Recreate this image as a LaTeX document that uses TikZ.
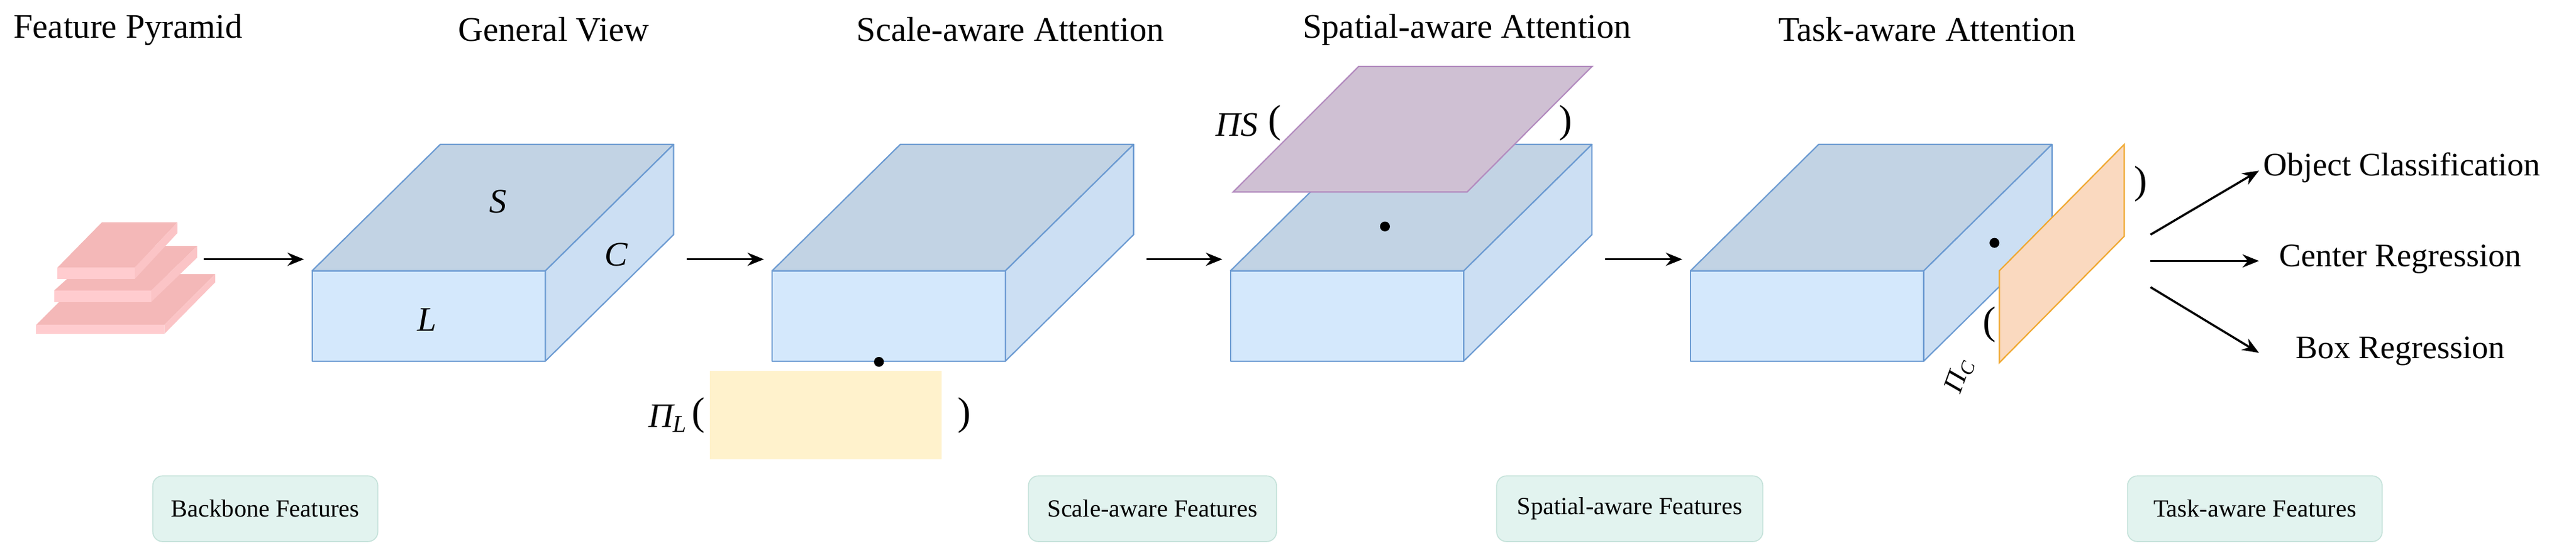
\documentclass[tikz,border=0pt]{standalone}
\usepackage{fontspec}
\setmainfont{Liberation Serif}
\usetikzlibrary{arrows.meta}
\begin{document}
\begin{tikzpicture}[x=1pt,y=-1pt,
 title/.style={font=\fontsize{21}{24}\selectfont},
 outtxt/.style={font=\fontsize{20}{23}\selectfont},
 feat/.style={rounded corners=6pt,fill=featfill,draw=featdraw,line width=0.6pt,minimum height=40pt,font=\fontsize{15}{17}\selectfont},
 arr/.style={-{Stealth[length=10pt,width=8pt]},line width=1.3pt},
 cubeline/.style={draw=cubedraw,line width=0.8pt,line join=round},
 par/.style={font=\fontsize{24}{26}\selectfont},
 sym/.style={font=\fontsize{21}{24}\selectfont\itshape},
 dot/.style={circle,fill=black,inner sep=0pt,minimum size=6pt}]
\definecolor{front}{HTML}{D4E8FC}
\definecolor{topc}{HTML}{C2D3E4}
\definecolor{side}{HTML}{CCDFF3}
\definecolor{cubedraw}{HTML}{6C9BD2}
\definecolor{pinkA}{HTML}{F4B8B8}
\definecolor{pinkB}{HTML}{FFCCCF}
\definecolor{featfill}{HTML}{E2F3EF}
\definecolor{featdraw}{HTML}{C5E2DA}
\definecolor{yel}{HTML}{FFF2CC}
\definecolor{purf}{HTML}{CFC0D3}
\definecolor{purd}{HTML}{B38BBF}
\definecolor{orf}{HTML}{FAD9BF}
\definecolor{ord}{HTML}{F0A830}
\useasboundingbox (0,0) rectangle (1568,340);
\fill[white] (0,0) rectangle (1568,340);
\newcommand\mycube[2]{%
 \filldraw[cubeline,fill=front] (#1,165) rectangle (#1+142,220);
 \filldraw[cubeline,fill=topc] (#1,165) -- (#1+78,88) -- (#1+220,88) -- (#1+142,165) -- cycle;
 \filldraw[cubeline,fill=side] (#1+142,165) -- (#1+220,88) -- (#1+220,143) -- (#1+142,220) -- cycle;
 \coordinate (#2in) at (#1-5,158);
 \coordinate (#2out) at (#1+228,158);}
% titles
\node[title] (t1) at (78,18) {Feature Pyramid};
\node[title] (t2) at (337,18) {General View};
\node[title] (t3) at (615,18) {Scale-aware Attention};
\node[title] (t4) at (893,18) {Spatial-aware Attention};
\node[title] (t5) at (1173,18) {Task-aware Attention};
% pyramid
\fill[pinkA] (22,198) -- (53,167) -- (131,167) -- (100,198) -- cycle;
\fill[pinkB!60!pinkA] (100,198) -- (131,167) -- (131,172) -- (100,203.5) -- cycle;
\fill[pinkB] (22,198) rectangle (100,203.5);
\fill[pinkA] (33,177) -- (63,150) -- (120,150) -- (92,177) -- cycle;
\fill[pinkB!60!pinkA] (92,177) -- (120,150) -- (120,157) -- (92,184) -- cycle;
\fill[pinkB] (33,177) rectangle (92,184);
\fill[pinkA] (35,163) -- (62,135.5) -- (108,135.5) -- (82,163) -- cycle;
\fill[pinkB!60!pinkA] (82,163) -- (108,135.5) -- (108,142) -- (82,170) -- cycle;
\fill[pinkB] (35,163) rectangle (82,170);
\coordinate (pyr) at (124,158);
% cubes
\mycube{190}{a}
\mycube{470}{b}
\mycube{749}{c}
\mycube{1029}{d}
\node[sym] (S) at (303,123) {S};
\node[sym] (C) at (375,155) {C};
\node[sym] (L) at (260,195) {L};
% arrows
\draw[arr] (pyr) -- (ain);
\draw[arr] (aout) -- (bin);
\draw[arr] (bout) -- (cin);
\draw[arr] (cout) -- (din);
% scale attention
\fill[yel] (432,226) rectangle (573,280);
\node[dot] (d2) at (535,220.5) {};
\node[sym,anchor=east] (PL) at (422,255) {Π\textsubscript{L}};
\node[par] (pl1) at (425,253) {(};
\node[par] (pl2) at (587,253) {)};
% spatial attention
\filldraw[draw=purd,fill=purf,line width=0.8pt] (750.6,117) -- (827,40.5) -- (969,40.5) -- (893,117) -- cycle;
\node[dot] (d3) at (843,138) {};
\node[sym] (PS) at (753,76) {ΠS};
\node[par] (ps1) at (776,75) {(};
\node[par] (ps2) at (953,75) {)};
% task attention
\node[dot] (d4) at (1214,148) {};
\filldraw[draw=ord,fill=orf,line width=0.8pt] (1217,165) -- (1293,88) -- (1293,144) -- (1217,221) -- cycle;
\node[par] (pc2) at (1303,112) {)};
\node[par] (pc1) at (1211,198) {(};
\node[sym,rotate=70,font=\fontsize{17}{19}\selectfont\itshape] (PC) at (1193,229) {Π\textsubscript{C}};
% outputs
\node[outtxt] (o1) at (1462,102) {Object Classification};
\node[outtxt] (o2) at (1461,158) {Center Regression};
\node[outtxt] (o3) at (1461,214) {Box Regression};
\coordinate (src1) at (1309,143);
\coordinate (src2) at (1309,159);
\coordinate (src3) at (1309,175);
\coordinate (dst1) at (1375,104);
\coordinate (dst2) at (1375,159);
\coordinate (dst3) at (1375,215);
\draw[arr] (src1) -- (dst1);
\draw[arr] (src2) -- (dst2);
\draw[arr] (src3) -- (dst3);
% features
\node[feat,minimum width=137pt] (f1) at (161.5,310) {Backbone Features};
\node[feat,minimum width=151pt] (f2) at (701.5,310) {Scale-aware Features};
\node[feat,minimum width=162pt] (f3) at (992,310) {Spatial-aware Features};
\node[feat,minimum width=155pt] (f4) at (1372.5,310) {Task-aware Features};
\end{tikzpicture}
\end{document}
